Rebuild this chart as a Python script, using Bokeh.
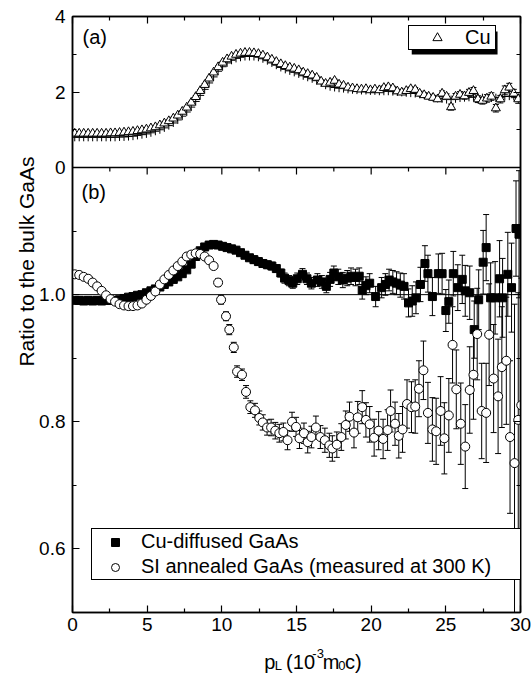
import math
from bokeh.plotting import figure
from bokeh.layouts import row, column
from bokeh.models import (Range1d, LinearAxis, FixedTicker, Legend, LegendItem,
                          Label, Span, BoxAnnotation, ColumnDataSource,
                          CustomJSTickFormatter)
from bokeh.embed import file_html
from bokeh.resources import INLINE

# ---------------- data ----------------
# panel (a): Cu (triangles) and companion series (crosses)
x_a = [0.15, 0.45, 0.75, 1.05, 1.35, 1.65, 1.95, 2.25, 2.55, 2.85,
       3.15, 3.45, 3.75, 4.05, 4.35, 4.65, 4.95, 5.25, 5.55, 5.85,
       6.15, 6.45, 6.75, 7.05, 7.35, 7.65, 7.95, 8.25, 8.55, 8.85,
       9.15, 9.45, 9.75, 10.05, 10.35, 10.65, 10.95, 11.25, 11.55, 11.85,
       12.15, 12.45, 12.75, 13.05, 13.35, 13.65, 13.95, 14.25, 14.55, 14.85,
       15.15, 15.45, 15.75, 16.05, 16.35, 16.65, 16.95, 17.25, 17.55, 17.85,
       18.15, 18.45, 18.75, 19.05, 19.35, 19.65, 19.95, 20.25, 20.55, 20.85,
       21.15, 21.45, 21.75, 22.05, 22.35, 22.65, 22.95, 23.25, 23.55, 23.85,
       24.15, 24.45, 24.75, 25.05, 25.35, 25.65, 25.95, 26.25, 26.55, 26.85,
       27.15, 27.45, 27.75, 28.05, 28.35, 28.65, 28.95, 29.25, 29.55, 29.85]
cu_tri = [0.90, 0.90, 0.90, 0.90, 0.90, 0.90, 0.90, 0.90, 0.91, 0.91,
          0.92, 0.93, 0.94, 0.95, 0.97, 0.99, 1.01, 1.04, 1.07, 1.12,
          1.17, 1.23, 1.30, 1.38, 1.48, 1.59, 1.72, 1.87, 2.03, 2.19,
          2.36, 2.52, 2.66, 2.78, 2.87, 2.94, 2.99, 3.02, 3.04, 3.04,
          3.03, 3.01, 2.97, 2.92, 2.86, 2.80, 2.74, 2.69, 2.65, 2.62,
          2.58, 2.52, 2.48, 2.44, 2.38, 2.28, 2.22, 2.25, 2.30, 2.20,
          2.17, 2.12, 2.10, 2.08, 2.07, 2.08, 2.05, 2.07, 2.05, 2.11,
          2.13, 2.10, 2.02, 1.99, 2.03, 2.08, 2.06, 1.96, 1.92, 1.88,
          1.85, 1.81, 1.96, 1.88, 1.60, 1.88, 1.93, 1.89, 1.98, 2.03,
          1.81, 1.77, 1.83, 1.88, 1.57, 1.81, 2.05, 2.12, 1.96, 1.81]
cu_err = [0.02, 0.02, 0.02, 0.02, 0.02, 0.02, 0.02, 0.02, 0.02, 0.02,
          0.02, 0.02, 0.02, 0.02, 0.02, 0.02, 0.02, 0.02, 0.02, 0.02,
          0.03, 0.03, 0.03, 0.03, 0.03, 0.03, 0.03, 0.03, 0.03, 0.03,
          0.03, 0.03, 0.03, 0.03, 0.03, 0.03, 0.03, 0.03, 0.03, 0.03,
          0.03, 0.03, 0.03, 0.03, 0.03, 0.03, 0.03, 0.03, 0.03, 0.03,
          0.04, 0.04, 0.04, 0.04, 0.04, 0.04, 0.04, 0.04, 0.04, 0.04,
          0.04, 0.04, 0.04, 0.04, 0.04, 0.04, 0.05, 0.05, 0.05, 0.05,
          0.05, 0.05, 0.05, 0.05, 0.05, 0.05, 0.06, 0.06, 0.06, 0.06,
          0.06, 0.06, 0.07, 0.07, 0.08, 0.08, 0.08, 0.08, 0.09, 0.09,
          0.09, 0.09, 0.10, 0.10, 0.10, 0.10, 0.11, 0.11, 0.11, 0.11]
cu_cross = [0.80, 0.80, 0.80, 0.80, 0.80, 0.80, 0.80, 0.80, 0.80, 0.80,
            0.81, 0.81, 0.82, 0.83, 0.85, 0.87, 0.89, 0.92, 0.96, 1.00,
            1.05, 1.11, 1.18, 1.26, 1.36, 1.47, 1.60, 1.75, 1.91, 2.07,
            2.24, 2.40, 2.55, 2.67, 2.77, 2.84, 2.89, 2.92, 2.94, 2.94,
            2.94, 2.92, 2.88, 2.83, 2.77, 2.71, 2.65, 2.60, 2.56, 2.52,
            2.48, 2.43, 2.39, 2.35, 2.30, 2.24, 2.18, 2.14, 2.12, 2.10,
            2.09, 2.07, 2.06, 2.05, 2.04, 2.04, 2.03, 2.03, 2.02, 2.02,
            2.02, 2.01, 2.00, 1.99, 1.98, 1.97, 1.96, 1.94, 1.92, 1.90,
            1.86, 1.83, 1.82, 1.80, 1.80, 1.82, 1.84, 1.85, 1.86, 1.87,
            1.86, 1.85, 1.84, 1.84, 1.85, 1.86, 1.88, 1.89, 1.88, 1.86]

# panel (b): Cu-diffused GaAs (filled squares)
x_sq = [0.15, 0.45, 0.75, 1.05, 1.35, 1.65, 1.95, 2.25, 2.55, 2.85,
        3.15, 3.45, 3.75, 4.05, 4.35, 4.65, 4.95, 5.25, 5.55, 5.85,
        6.15, 6.45, 6.75, 7.05, 7.35, 7.65, 7.95, 8.25, 8.55, 8.85,
        9.15, 9.45, 9.75, 10.05, 10.35, 10.65, 10.95, 11.25, 11.55, 11.85,
        12.15, 12.45, 12.75, 13.05, 13.35, 13.65, 13.95,
        14.2, 14.5, 14.75, 15.05, 15.4, 15.7, 16.0, 16.4, 16.7, 17.0,
        17.25, 17.5, 17.8, 18.1, 18.4, 18.65, 18.95, 19.2, 19.4, 19.65,
        19.9, 20.3, 20.7, 20.95, 21.2, 21.45, 21.7, 21.95, 22.2, 22.5,
        22.75, 23.0, 23.3, 23.6, 23.8, 24.1, 24.5, 24.75, 25.0, 25.2,
        25.5, 25.8, 26.1, 26.3, 26.6, 26.9, 27.2, 27.5, 27.7, 28.0,
        28.3, 28.6, 28.8, 29.15, 29.4, 29.7, 29.9]
y_sq = [0.991, 0.991, 0.990, 0.991, 0.990, 0.991, 0.990, 0.991, 0.991, 0.991,
        0.992, 0.994, 0.996, 0.997, 0.999, 1.000, 1.003, 1.006, 1.009, 1.012,
        1.016, 1.020, 1.024, 1.028, 1.033, 1.039, 1.048, 1.060, 1.069, 1.075,
        1.078, 1.079, 1.078, 1.076, 1.074, 1.072, 1.070, 1.066, 1.062, 1.058,
        1.055, 1.052, 1.049, 1.047, 1.045, 1.041, 1.034,
        1.026, 1.022, 1.018, 1.025, 1.032, 1.025, 1.018, 1.023, 1.020, 1.013,
        1.024, 1.034, 1.028, 1.023, 1.026, 1.029, 1.027, 1.029, 1.007, 1.014,
        1.018, 0.997, 1.011, 1.016, 1.023, 1.020, 1.018, 1.015, 1.013, 0.987,
        0.990, 0.995, 1.016, 1.049, 1.033, 0.997, 1.033, 1.033, 0.975, 0.989,
        1.033, 1.011, 1.024, 1.006, 1.003, 0.945, 0.992, 1.051, 1.074, 0.995,
        0.995, 1.025, 0.995, 1.032, 1.011, 1.104, 1.095]
e_sq = [0.004, 0.004, 0.004, 0.004, 0.004, 0.004, 0.004, 0.004, 0.004, 0.004,
        0.004, 0.004, 0.004, 0.004, 0.004, 0.004, 0.004, 0.004, 0.004, 0.004,
        0.004, 0.004, 0.004, 0.004, 0.004, 0.004, 0.004, 0.005, 0.005, 0.005,
        0.005, 0.005, 0.005, 0.005, 0.005, 0.005, 0.005, 0.005, 0.005, 0.005,
        0.006, 0.006, 0.006, 0.006, 0.006, 0.006, 0.006,
        0.008, 0.008, 0.008, 0.009, 0.009, 0.009, 0.009, 0.010, 0.010, 0.010,
        0.011, 0.011, 0.012, 0.012, 0.012, 0.013, 0.013, 0.013, 0.014, 0.014,
        0.015, 0.016, 0.016, 0.017, 0.017, 0.018, 0.018, 0.019, 0.020, 0.022,
        0.024, 0.025, 0.027, 0.028, 0.029, 0.030, 0.031, 0.032, 0.033, 0.034,
        0.035, 0.036, 0.038, 0.040, 0.042, 0.045, 0.047, 0.050, 0.052, 0.055,
        0.057, 0.060, 0.062, 0.066, 0.070, 0.075, 0.100]

# panel (b): SI annealed GaAs (open circles)
x_ci = [0.15, 0.45, 0.75, 1.05, 1.35, 1.65, 1.95, 2.25, 2.55, 2.85,
        3.15, 3.45, 3.75, 4.05, 4.35, 4.65, 4.95, 5.25, 5.55, 5.85,
        6.15, 6.45, 6.75, 7.05, 7.35, 7.65, 7.95, 8.25, 8.55, 8.85,
        9.15, 9.45, 9.75,
        9.95, 10.28, 10.5, 10.8, 11.02, 11.35, 11.62, 11.91, 12.22, 12.51,
        12.74, 13.03, 13.3, 13.58, 13.85, 14.12, 14.4, 14.7, 14.97, 15.2,
        15.5, 15.75, 16.0, 16.3, 16.6, 16.9, 17.2, 17.4, 17.7, 18.0,
        18.3, 18.55, 18.85, 19.1, 19.4, 19.65, 19.9, 20.2, 20.5, 20.8,
        21.1, 21.3, 21.6, 21.85, 22.1, 22.4, 22.7, 22.95, 23.2, 23.5,
        23.8, 24.1, 24.35, 24.65, 24.9, 25.2, 25.45, 25.7, 26.0, 26.3,
        26.6, 26.85, 27.1, 27.4, 27.7, 27.9, 28.2, 28.5, 28.75, 29.05,
        29.3, 29.6, 29.85, 30.05]
y_ci = [1.032, 1.031, 1.028, 1.025, 1.019, 1.013, 1.006, 0.999, 0.993, 0.989,
        0.985, 0.983, 0.982, 0.982, 0.983, 0.986, 0.992, 0.998, 1.005, 1.016,
        1.024, 1.031, 1.038, 1.045, 1.052, 1.060, 1.063, 1.065, 1.064, 1.060,
        1.054, 1.045, 1.019,
        0.992, 0.966, 0.945, 0.917, 0.879, 0.874, 0.847, 0.823, 0.818, 0.806,
        0.799, 0.791, 0.791, 0.786, 0.782, 0.784, 0.771, 0.800, 0.792, 0.774,
        0.782, 0.768, 0.776, 0.791, 0.776, 0.771, 0.763, 0.758, 0.764, 0.776,
        0.795, 0.808, 0.783, 0.807, 0.823, 0.803, 0.796, 0.775, 0.786, 0.773,
        0.787, 0.817, 0.797, 0.778, 0.788, 0.828, 0.823, 0.824, 0.852, 0.881,
        0.814, 0.788, 0.785, 0.817, 0.774, 0.810, 0.921, 0.851, 0.797, 0.761,
        0.850, 0.874, 0.938, 0.817, 0.814, 0.937, 0.868, 0.840, 0.886, 0.896,
        0.776, 0.735, 0.803, 0.826]
e_ci = [0.004, 0.004, 0.004, 0.004, 0.004, 0.004, 0.004, 0.004, 0.004, 0.004,
        0.004, 0.004, 0.004, 0.004, 0.004, 0.004, 0.004, 0.004, 0.004, 0.004,
        0.004, 0.004, 0.004, 0.004, 0.004, 0.004, 0.004, 0.004, 0.004, 0.004,
        0.004, 0.005, 0.006,
        0.007, 0.007, 0.008, 0.008, 0.009, 0.009, 0.010, 0.010, 0.011, 0.011,
        0.012, 0.012, 0.013, 0.013, 0.014, 0.014, 0.015, 0.015, 0.015, 0.016,
        0.016, 0.017, 0.017, 0.018, 0.018, 0.019, 0.019, 0.020, 0.020, 0.021,
        0.022, 0.023, 0.024, 0.025, 0.026, 0.027, 0.028, 0.029, 0.030, 0.031,
        0.032, 0.033, 0.034, 0.035, 0.036, 0.038, 0.040, 0.042, 0.044, 0.046,
        0.048, 0.050, 0.052, 0.054, 0.056, 0.058, 0.060, 0.062, 0.064, 0.066,
        0.068, 0.070, 0.072, 0.075, 0.078, 0.080, 0.085, 0.090, 0.095, 0.100,
        0.120, 0.250, 0.200, 0.200]

x_major = [0, 5, 10, 15, 20, 25, 30]
x_minor = [2.5, 7.5, 12.5, 17.5, 22.5, 27.5]
b_major = [0.6, 0.8, 1.0]
b_minor = [0.7, 0.9, 1.1]
a_major = [0, 2, 4]
a_minor = [1, 3]

# ---------------- layout geometry (page pixels) ----------------
W, H = 531, 673
YLW = 36                 # width of the strip holding the y title
MAIN_H = 640             # main plot height; x title strip below it
FL, FR, FT, FB, SPLIT = 71, 520, 16, 612, 167
X0, X1 = 0, 30
B0, B1 = 0.5, 1.2
A0, A1 = 0, 4
bpp = (B1 - B0) / (FB - SPLIT)          # b-units per pixel
app = (A1 - A0) / (SPLIT - FT)          # a-units per pixel
xpp = (X1 - X0) / (FR - FL)
y_end = B1 + (SPLIT - FT) * bpp
a_start = A0 - (FB - SPLIT) * app
a_to_b = bpp / app                      # b-units per a-unit


def px_x(px):
    return X0 + (px - FL) * xpp


def px_b(py):
    return B0 + (FB - py) * bpp


def px_a(py):
    return A0 + (SPLIT - py) * app


FONT = "Liberation Sans"

p = figure(width=W - YLW, height=MAIN_H, x_range=Range1d(X0, X1), y_range=Range1d(B0, y_end),
           output_backend="svg", toolbar_location=None,
           x_axis_location=None, y_axis_location=None,
           min_border_left=FL - YLW, min_border_right=W - FR,
           min_border_top=FT, min_border_bottom=MAIN_H - FB)
p.extra_y_ranges = {"a": Range1d(a_start, A1)}
p.grid.visible = False
p.outline_line_color = "black"
p.outline_line_width = 1.5
p.background_fill_color = "white"
p.border_fill_color = "white"

# ---------- axes ----------
y_ticks_major = b_major + [B1 + a * a_to_b - (1e-9 if a == A1 else 0) for a in a_major]
y_ticks_minor = b_minor + [B1 + a * a_to_b for a in a_minor]
yfmt = CustomJSTickFormatter(args=dict(base=B1, s=a_to_b), code="""
    if (tick > base - 1e-6) { return Math.round((tick - base) / s).toFixed(0); }
    return tick.toFixed(1);
""")
blank = CustomJSTickFormatter(code="return '';")


def style(ax, labels):
    ax.axis_line_width = 1.5
    ax.axis_line_color = "black"
    ax.major_tick_in = 7
    ax.major_tick_out = 0
    ax.minor_tick_in = 4
    ax.minor_tick_out = 0
    ax.major_tick_line_width = 1.2
    ax.minor_tick_line_width = 1.2
    ax.major_tick_line_color = "black"
    ax.minor_tick_line_color = "black"
    if labels:
        ax.major_label_text_font = FONT
        ax.major_label_text_font_size = "19px"
        ax.major_label_text_color = "black"
    else:
        ax.major_label_text_font_size = "0px"
        ax.major_label_standoff = 0


left = LinearAxis(ticker=FixedTicker(ticks=y_ticks_major, minor_ticks=y_ticks_minor), formatter=yfmt)
style(left, True)
left.major_label_standoff = 7
p.add_layout(left, "left")

right = LinearAxis(ticker=FixedTicker(ticks=y_ticks_major, minor_ticks=y_ticks_minor), formatter=blank)
style(right, False)
p.add_layout(right, "right")

bottom = LinearAxis(ticker=FixedTicker(ticks=x_major, minor_ticks=x_minor))
style(bottom, True)
bottom.major_label_standoff = 5
p.add_layout(bottom, "below")

top = LinearAxis(ticker=FixedTicker(ticks=x_major, minor_ticks=x_minor), formatter=blank)
style(top, False)
p.add_layout(top, "above")

# separator between panels (a) and (b), with its own downward ticks
p.add_layout(Span(location=B1, dimension="width", line_color="black", line_width=1.5))
sep_major = x_major[1:-1]
p.segment(x0=sep_major, y0=[B1] * len(sep_major), x1=sep_major,
          y1=[B1 - 7 * bpp] * len(sep_major), line_color="black", line_width=1.2)
p.segment(x0=x_minor, y0=[B1] * len(x_minor), x1=x_minor,
          y1=[B1 - 4 * bpp] * len(x_minor), line_color="black", line_width=1.2)

# reference line at 1.0
p.add_layout(Span(location=1.0, dimension="width", line_color="black", line_width=1, level="underlay"))

# ---------- panel (a) ----------
src_a = ColumnDataSource(dict(x=x_a, y=cu_tri, c=cu_cross,
                              lo=[v - e for v, e in zip(cu_tri, cu_err)],
                              hi=[v + e for v, e in zip(cu_tri, cu_err)]))
p.segment(x0="x", y0="lo", x1="x", y1="hi", source=src_a, y_range_name="a",
          line_color="black", line_width=1)
p.scatter(x="x", y="lo", source=src_a, y_range_name="a", marker="dash", size=6, line_color="black")
p.scatter(x="x", y="hi", source=src_a, y_range_name="a", marker="dash", size=6, line_color="black")
p.scatter(x="x", y="c", source=src_a, y_range_name="a", marker="cross", size=8,
          line_color="black", line_width=1)
r_tri = p.scatter(x="x", y="y", source=src_a, y_range_name="a", marker="triangle", size=9,
                  fill_color="white", line_color="black", line_width=1)

# ---------- panel (b) ----------
src_s = ColumnDataSource(dict(x=x_sq, y=y_sq,
                              lo=[v - e for v, e in zip(y_sq, e_sq)],
                              hi=[v + e for v, e in zip(y_sq, e_sq)]))
src_c = ColumnDataSource(dict(x=x_ci, y=y_ci,
                              lo=[v - e for v, e in zip(y_ci, e_ci)],
                              hi=[v + e for v, e in zip(y_ci, e_ci)]))

p.segment(x0="x", y0="lo", x1="x", y1="hi", source=src_s, line_color="black", line_width=1)
p.scatter(x="x", y="lo", source=src_s, marker="dash", size=6, line_color="black")
p.scatter(x="x", y="hi", source=src_s, marker="dash", size=6, line_color="black")
r_sq = p.scatter(x="x", y="y", source=src_s, marker="square", size=8,
                 fill_color="black", line_color="black")

p.segment(x0="x", y0="lo", x1="x", y1="hi", source=src_c, line_color="black", line_width=1)
p.scatter(x="x", y="lo", source=src_c, marker="dash", size=6, line_color="black")
p.scatter(x="x", y="hi", source=src_c, marker="dash", size=6, line_color="black")
r_ci = p.scatter(x="x", y="y", source=src_c, marker="circle", size=9,
                 fill_color="white", line_color="black", line_width=1)

# ---------- legends ----------
shadow = BoxAnnotation(left=px_x(411), right=px_x(497), top=px_a(31), bottom=px_a(54),
                       y_range_name="a", fill_color="black", fill_alpha=1,
                       line_color=None, level="annotation")
p.add_layout(shadow)


def legend_common(lg):
    lg.border_line_color = "black"
    lg.border_line_width = 1
    lg.border_line_alpha = 1
    lg.background_fill_color = "white"
    lg.background_fill_alpha = 1
    lg.padding = 0
    lg.spacing = 0
    lg.margin = 0
    lg.label_text_font = FONT
    lg.label_text_font_size = "20px"
    lg.label_text_color = "black"
    lg.label_text_baseline = "middle"


leg_a = Legend(items=[LegendItem(label="Cu", renderers=[r_tri])],
               location=(407 - FL, FB - 50))
legend_common(leg_a)
leg_a.glyph_width = 56
leg_a.glyph_height = 23
leg_a.label_height = 23
leg_a.label_width = 30
leg_a.label_standoff = 0
p.add_layout(leg_a)

leg_b = Legend(items=[LegendItem(label="Cu-diffused GaAs", renderers=[r_sq]),
                      LegendItem(label="SI annealed GaAs (measured at 300 K)", renderers=[r_ci])],
               location=(90 - FL, FB - 580))
legend_common(leg_b)
leg_b.glyph_width = 46
leg_b.glyph_height = 20
leg_b.label_height = 25
leg_b.label_width = 380
leg_b.label_standoff = 3
p.add_layout(leg_b)

# ---------- panel tags ----------
p.add_layout(Label(x=px_x(81), y=px_a(36), y_range_name="a", text="(a)",
                   text_font=FONT, text_font_size="20px", text_baseline="middle",
                   text_color="black"))
p.add_layout(Label(x=px_x(80), y=px_b(191), text="(b)",
                   text_font=FONT, text_font_size="20px", text_baseline="middle",
                   text_color="black"))

# ---------- y title strip (coordinates = page pixels) ----------
ylab = figure(width=YLW, height=H, x_range=Range1d(0, YLW), y_range=Range1d(H, 0),
              output_backend="svg", toolbar_location=None,
              x_axis_location=None, y_axis_location=None,
              min_border_left=0, min_border_right=0, min_border_top=0, min_border_bottom=0)
ylab.outline_line_color = None
ylab.grid.visible = False
ylab.add_layout(Label(x=25.5, y=261, text="Ratio to the bulk GaAs", angle=math.pi / 2,
                      text_font=FONT, text_font_size="21px", text_align="center",
                      text_baseline="middle", text_color="black"))

# ---------- x title strip (coordinates = page pixels) ----------
xlab = figure(width=W - YLW, height=H - MAIN_H, x_range=Range1d(YLW, W), y_range=Range1d(H, MAIN_H),
              output_backend="svg", toolbar_location=None,
              x_axis_location=None, y_axis_location=None,
              min_border_left=0, min_border_right=0, min_border_top=0, min_border_bottom=0)
xlab.outline_line_color = None
xlab.grid.visible = False
base = 661
pieces = [("p", 248, base, "20px"), ("L", 259.5, base + 4, "13px"),
          ("(10", 272, base, "20px"), ("-3", 301, base - 8, "13px"),
          ("m", 312.5, base, "20px"), ("0", 329.5, base + 4, "13px"),
          ("c)", 337, base, "20px")]
for txt, px, py, fs in pieces:
    xlab.add_layout(Label(x=px, y=py, text=txt, text_font=FONT,
                          text_font_size=fs, text_baseline="alphabetic",
                          text_align="left", text_color="black"))

layout = row(ylab, column(p, xlab, spacing=0), spacing=0)
open("out.html", "w").write(file_html(layout, INLINE))
